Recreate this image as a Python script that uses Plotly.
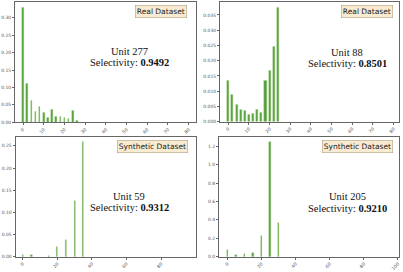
import plotly.graph_objects as go

W, H = 403, 272

# ---- data ----
x_u277 = [0, 2, 4, 6, 8, 10, 12, 14, 16, 18, 20, 22, 24, 26]
y_u277 = [0.329, 0.112, 0.061, 0.030, 0.044, 0.028, 0.012, 0.035, 0.015, 0.017, 0.012, 0.010, 0.034, 0.005]

x_u88 = [0, 2, 4, 6, 8, 10, 12, 14, 16, 18, 20, 22, 24]
y_u88 = [0.0136, 0.0087, 0.0055, 0.0038, 0.0035, 0.0022, 0.0026, 0.0041, 0.0030, 0.0134, 0.0168, 0.0247, 0.0373]

x_u59 = [0, 5, 15, 20, 25, 30, 35]
y_u59 = [0.003, 0.004, 0.0015, 0.022, 0.037, 0.126, 0.259]

x_u205 = [0, 5, 10, 15, 20, 25, 30]
y_u205 = [0.072, 0.022, 0.029, 0.040, 0.225, 1.246, 0.362]

panels = [
    dict(x=x_u277, y=y_u277, unit="Unit 277", sel="0.9492", tag="Real Dataset", bw=0.8),
    dict(x=x_u88, y=y_u88, unit="Unit 88", sel="0.8501", tag="Real Dataset", bw=1.0),
    dict(x=x_u59, y=y_u59, unit="Unit 59", sel="0.9312", tag="Synthetic Dataset", bw=0.7),
    dict(x=x_u205, y=y_u205, unit="Unit 205", sel="0.9210", tag="Synthetic Dataset", bw=0.8),
]

# pixel frames (left, right, top, bottom)
frames = [(15, 195.7, 1.7, 122.3), (220, 399, 1.7, 121.7),
          (15.5, 195.5, 137, 256.7), (219, 399, 137, 256.7)]
xranges = [[-3.9, 83.4], [-4.0, 82.6], [-4.2, 99.9], [-4.9, 100.6]]
yranges = [[0, 0.3466], [0, 0.03936], [0, 0.270], [0, 1.301]]
xticks = [list(range(0, 81, 10)), list(range(0, 81, 10)),
          list(range(0, 101, 20)), list(range(0, 101, 20))]
yfmt = [".2f", ".3f", ".2f", ".1f"]
ydtick = [0.05, 0.005, 0.05, 0.2]
# text positions (center x, line1 y, line2 y, tag box right x, tag y)
textpos = [(129, 51, 62.7, 187, 11.5), (347, 52, 63, 393, 11.5),
           (129, 196, 207.7, 188, 146), (347, 196.7, 208.3, 393, 146.3)]

fig = go.Figure()
ann = []
for i, p in enumerate(panels):
    n = "" if i == 0 else str(i + 1)
    fig.add_trace(go.Bar(
        x=p["x"], y=p["y"], width=p["bw"],
        marker=dict(color="#56a03a", line=dict(color="#9ccc80", width=0.4)),
        xaxis="x" + n, yaxis="y" + n, showlegend=False))
    l, r, t, b = frames[i]
    axstyle = dict(showline=True, mirror=True, linecolor="#666", linewidth=0.8,
                   ticks="outside", ticklen=2, tickwidth=0.5, tickcolor="#666",
                   tickfont=dict(size=4.5, color="#555", family="DejaVu Sans"),
                   showgrid=False, zeroline=False, automargin=False)
    fig.layout["xaxis" + n] = dict(domain=[l / W, r / W], range=xranges[i],
                                   tickvals=xticks[i], tickangle=-45,
                                   anchor="y" + n, **axstyle)
    fig.layout["yaxis" + n] = dict(domain=[1 - b / H, 1 - t / H], range=yranges[i],
                                   tick0=0, dtick=ydtick[i], tickformat=yfmt[i],
                                   anchor="x" + n, **axstyle)
    cx, y1, y2, tx, ty = textpos[i]
    ann.append(dict(xref="paper", yref="paper", x=cx / W, y=1 - y1 / H,
                    text=p["unit"], showarrow=False, xanchor="center", yanchor="middle",
                    font=dict(family="Liberation Serif", size=10.5, color="#111")))
    ann.append(dict(xref="paper", yref="paper", x=cx / W, y=1 - y2 / H,
                    text="Selectivity: <b>" + p["sel"] + "</b>", showarrow=False,
                    xanchor="center", yanchor="middle",
                    font=dict(family="Liberation Serif", size=10.5, color="#111")))
    ann.append(dict(xref="paper", yref="paper", x=tx / W, y=1 - ty / H,
                    text=p["tag"], showarrow=False, xanchor="right", yanchor="middle",
                    font=dict(family="DejaVu Sans", size=7.5, color="#222"),
                    bgcolor="rgba(245,222,179,0.6)", bordercolor="#b0a080",
                    borderwidth=0.6, borderpad=1.2))

fig.update_layout(width=W, height=H, margin=dict(l=0, r=0, t=0, b=0),
                  paper_bgcolor="white", plot_bgcolor="white",
                  annotations=ann, bargap=0)
fig.write_html("out.html", config={"displayModeBar": False},
               post_script="document.body.style.margin='0';document.body.style.padding='0';")
